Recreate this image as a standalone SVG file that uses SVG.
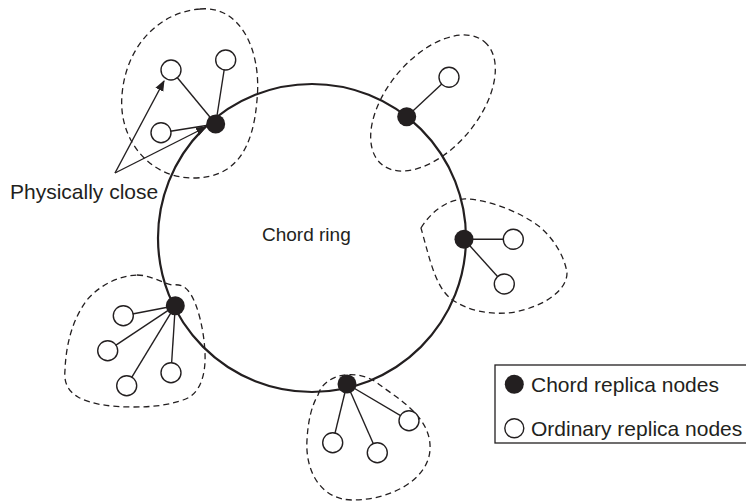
<svg xmlns="http://www.w3.org/2000/svg" width="746" height="502" viewBox="0 0 746 502">
<defs>
<marker id="ah" viewBox="0 0 10 10" refX="9" refY="5" markerWidth="11" markerHeight="11" markerUnits="userSpaceOnUse" orient="auto">
<path d="M0,1 L10,5 L0,9 Z" fill="#231f20"/>
</marker>
</defs>
<style>
.ring{fill:none;stroke:#231f20;stroke-width:2.2}
.bound{fill:none;stroke:#231f20;stroke-width:1.3;stroke-dasharray:6,4}
.link{stroke:#231f20;stroke-width:1.4;fill:none}
.chord{fill:#231f20}
.ord{fill:#fff;stroke:#231f20;stroke-width:1.4}
.txt{font-family:"Liberation Sans",Arial,sans-serif;fill:#231f20}
</style>
<rect width="746" height="502" fill="#fff"/>
<g id="boundaries">
<path class="bound" d="M200,9 C240,5 262,50 257,100 C253,150 235,178 193,178 C150,178 118,140 122,95 C126,45 160,12 200,9 Z"/>
<ellipse class="bound" cx="433" cy="103" rx="80" ry="46" transform="rotate(-50 433 103)"/>
<path class="bound" d="M421,228 C432,210 450,198 467,199 C490,200 520,212 540,227 C555,240 565,258 567,273 C567,290 545,306 515,312 C490,316 465,310 450,298 C435,285 430,260 421,228 Z"/>
<path class="bound" d="M137,275 C150,275 160,282 172,285 C180,284 185,286 190,293 C198,305 204,330 205,353 C206,375 200,395 183,400 C165,406 150,407 133,407 C110,407 90,404 78,397 C66,390 64,380 65,370 C66,345 72,320 87,300 C100,285 118,276 137,275 Z"/>
<path class="bound" d="M318,395 C325,372 360,368 380,385 C400,400 432,418 430,450 C428,480 390,500 353,500 C320,500 305,470 307,440 C308,420 312,405 318,395 Z"/>
</g>
<g id="ring">
<circle class="ring" cx="312" cy="238" r="154"/>
</g>
<g id="connectors">
<line class="link" x1="215.7" y1="124" x2="171" y2="70"/>
<line class="link" x1="215.7" y1="124" x2="225.7" y2="60"/>
<line class="link" x1="215.7" y1="124" x2="161" y2="132.7"/>
<line class="link" x1="406.7" y1="116.7" x2="449" y2="77.3"/>
<line class="link" x1="464" y1="239.3" x2="513.3" y2="239.3"/>
<line class="link" x1="464" y1="239.3" x2="504.3" y2="284"/>
<line class="link" x1="175.3" y1="305.7" x2="123.3" y2="315.7"/>
<line class="link" x1="175.3" y1="305.7" x2="107.7" y2="350.7"/>
<line class="link" x1="175.3" y1="305.7" x2="126.7" y2="385.7"/>
<line class="link" x1="175.3" y1="305.7" x2="171" y2="372.7"/>
<line class="link" x1="347" y1="384" x2="332.7" y2="442.7"/>
<line class="link" x1="347" y1="384" x2="377.3" y2="452.7"/>
<line class="link" x1="347" y1="384" x2="409" y2="420.7"/>
<line class="link" x1="115" y1="173" x2="164" y2="81" marker-end="url(#ah)"/>
<line class="link" x1="115" y1="173" x2="206" y2="127" marker-end="url(#ah)"/>
</g>
<g id="cluster-top-left">
<circle class="ord" cx="171" cy="70" r="10"/>
<circle class="ord" cx="225.7" cy="60" r="10"/>
<circle class="ord" cx="161" cy="132.7" r="10"/>
<circle class="chord" cx="215.7" cy="124" r="9.5"/>
</g>
<g id="cluster-top-right">
<circle class="ord" cx="449" cy="77.3" r="10"/>
<circle class="chord" cx="406.7" cy="116.7" r="9.5"/>
</g>
<g id="cluster-right">
<circle class="ord" cx="513.3" cy="239.3" r="10"/>
<circle class="ord" cx="504.3" cy="284" r="10"/>
<circle class="chord" cx="464" cy="239.3" r="9.5"/>
</g>
<g id="cluster-left">
<circle class="ord" cx="123.3" cy="315.7" r="10"/>
<circle class="ord" cx="107.7" cy="350.7" r="10"/>
<circle class="ord" cx="126.7" cy="385.7" r="10"/>
<circle class="ord" cx="171" cy="372.7" r="10"/>
<circle class="chord" cx="175.3" cy="305.7" r="9.5"/>
</g>
<g id="cluster-bottom">
<circle class="ord" cx="332.7" cy="442.7" r="10"/>
<circle class="ord" cx="377.3" cy="452.7" r="10"/>
<circle class="ord" cx="409" cy="420.7" r="10"/>
<circle class="chord" cx="347" cy="384" r="9.5"/>
</g>
<g id="labels">
<text class="txt" x="262" y="241" font-size="19">Chord ring</text>
<text class="txt" x="10" y="199" font-size="21">Physically close</text>
</g>
<g id="legend">
<rect x="495" y="365" width="260" height="78" fill="none" stroke="#231f20" stroke-width="1.3"/>
<circle class="chord" cx="514.3" cy="384.3" r="9.5"/>
<circle class="ord" cx="514.3" cy="428.3" r="9.5"/>
<text class="txt" x="531" y="392" font-size="21">Chord replica nodes</text>
<text class="txt" x="531" y="436" font-size="21">Ordinary replica nodes</text>
</g>
</svg>
